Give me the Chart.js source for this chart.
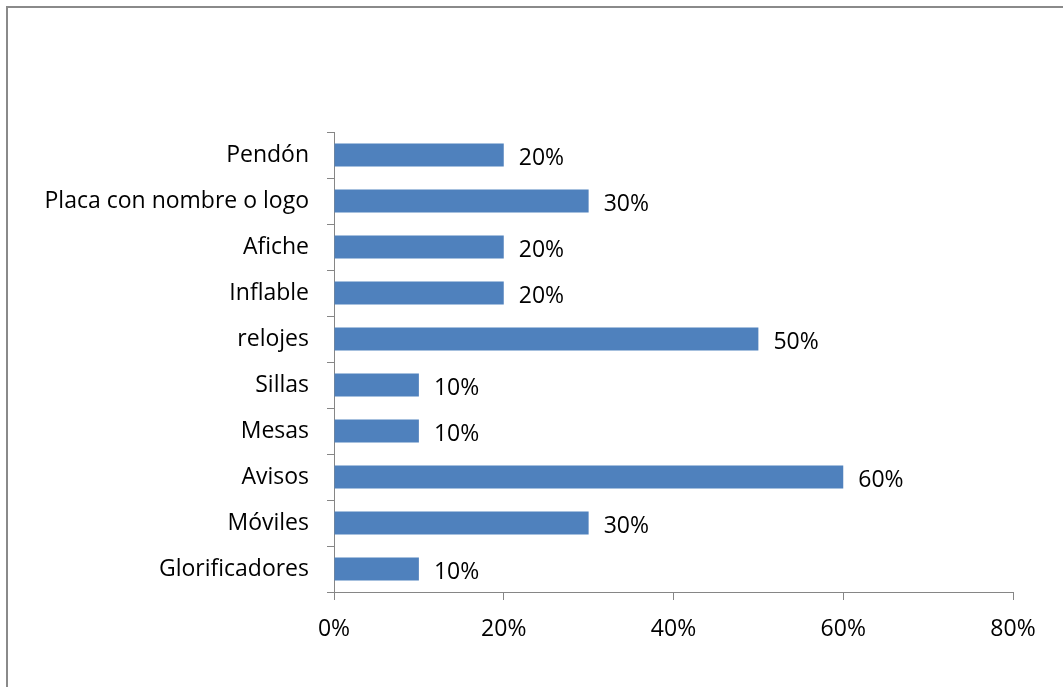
<!DOCTYPE html>
<html lang="es">
<head>
    <meta charset="UTF-8">
    <title>Elementos publicitarios</title>
    <style>
        html, body { margin: 0; padding: 0; background: #fff; overflow: hidden; }
        .frame {
            position: absolute; left: 6px; top: 6px; width: 1200px; height: 800px;
            border-left: 2px solid #8a8a8a; border-top: 2px solid #8a8a8a;
        }
        .chart-box { position: absolute; left: 0; top: 0; width: 1063px; height: 687px; }
    </style>
</head>
<body>
    <div class="frame"></div>
    <div class="chart-box">
        <canvas id="adsChart" width="1063" height="687"></canvas>
    </div>

    <script src="https://cdn.jsdelivr.net/npm/chart.js"></script>
    <script>
        const categories = ['Pendón', 'Placa con nombre o logo', 'Afiche', 'Inflable', 'relojes',
                            'Sillas', 'Mesas', 'Avisos', 'Móviles', 'Glorificadores'];
        const percentages = [20, 30, 20, 20, 50, 10, 10, 60, 30, 10];
        const xTicks = [0, 20, 40, 60, 80];

        const axisGray = '#868686';
        const fontFamily = '"Open Sans", "Noto Sans", sans-serif';
        const fontSize = 23;

        // writes the percentage just to the right of each bar
        const valueLabels = {
            id: 'valueLabels',
            afterDatasetsDraw(chart) {
                const ctx = chart.ctx;
                ctx.save();
                ctx.font = fontSize + 'px ' + fontFamily;
                ctx.fillStyle = '#000';
                ctx.textBaseline = 'middle';
                chart.getDatasetMeta(0).data.forEach((bar, i) => {
                    ctx.fillText(percentages[i] + '%', bar.x + 15, bar.y + 3);
                });
                ctx.restore();
            }
        };

        new Chart(document.getElementById('adsChart'), {
            type: 'bar',
            data: {
                labels: categories,
                datasets: [{
                    data: percentages,
                    backgroundColor: '#4f81bd',
                    borderWidth: 0,
                    barPercentage: 0.5,
                    categoryPercentage: 1
                }]
            },
            options: {
                indexAxis: 'y',
                responsive: false,
                animation: false,
                layout: { padding: { top: 132, right: 50, left: 0, bottom: 0 } },
                plugins: {
                    legend: { display: false },
                    tooltip: { enabled: false }
                },
                scales: {
                    x: {
                        min: 0,
                        max: 80,
                        afterBuildTicks(scale) {
                            scale.ticks = xTicks.map(v => ({ value: v }));
                        },
                        afterFit(scale) { scale.height = 95; },
                        border: { color: axisGray, width: 1 },
                        grid: {
                            drawOnChartArea: false,
                            drawTicks: true,
                            tickLength: 8,
                            color: axisGray
                        },
                        ticks: {
                            color: '#000',
                            padding: 16,
                            font: { family: fontFamily, size: fontSize },
                            callback: v => v + '%'
                        }
                    },
                    y: {
                        afterFit(scale) { scale.width = 334; },
                        border: { color: axisGray, width: 1 },
                        grid: {
                            offset: true,
                            drawOnChartArea: false,
                            drawTicks: true,
                            tickLength: 7,
                            color: axisGray
                        },
                        ticks: {
                            color: '#000',
                            padding: 18,
                            font: { family: fontFamily, size: fontSize }
                        }
                    }
                }
            },
            plugins: [valueLabels]
        });
    </script>
</body>
</html>
